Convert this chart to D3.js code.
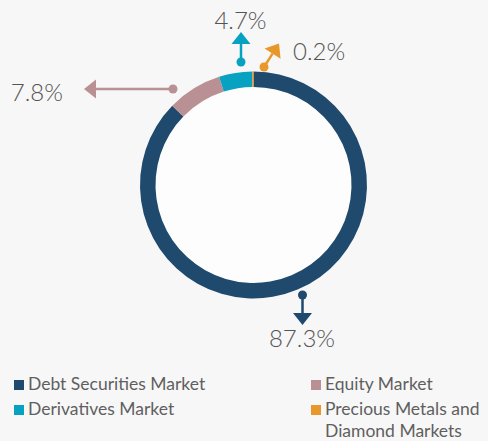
<!DOCTYPE html>
<html>
<head>
<meta charset="utf-8">
<script src="https://cdn.jsdelivr.net/npm/d3@7"></script>
<style>
  html, body { margin: 0; padding: 0; background: #f7f7f7; }
  svg { display: block; }
  text { font-family: Lato, "Open Sans", sans-serif; }
</style>
</head>
<body>
<div id="chart"></div>
<script>
'use strict';

// data
var categories = ['Debt Securities Market', 'Equity Market', 'Derivatives Market', 'Precious Metals and Diamond Markets'];
var shares = [87.3, 7.8, 4.7, 0.2];
var labels = ['87.3%', '7.8%', '4.7%', '0.2%'];
var colors = ['#1f4a6e', '#b99094', '#07a1c2', '#e8972b'];

// legend order as in the picture (two columns)
var legendOrder = [0, 2, 1, 3];

var width = 488, height = 441;
var cx = 253.5, cy = 185;
var outerR = 113.5, innerR = 98;

var svg = d3.select('#chart').append('svg')
  .attr('width', width)
  .attr('height', height);

var pie = d3.pie().sort(null).value(function(d) { return d; });
var arcs = pie(shares);

var arc = d3.arc().innerRadius(innerR).outerRadius(outerR);

var g = svg.append('g').attr('transform', 'translate(' + cx + ',' + cy + ')');

g.append('circle').attr('r', innerR).style('fill', '#fdfdfd');

g.selectAll('path.slice')
  .data(arcs)
  .enter()
  .append('path')
  .attr('class', 'slice')
  .attr('d', arc)
  .style('fill', function(d, i) { return colors[i]; });

/*
  callouts: dot offset from centre, arrow tip, label spot
*/
var callouts = [
  { dot: [49, 110], tip: [49, 140], lx: 48.5, ly: 162, anchor: 'middle' },
  { dot: [-80.5, -96], tip: [-169.5, -96], lx: -190.5, ly: -84, anchor: 'end' },
  { dot: [-12.5, -123], tip: [-12.5, -153], lx: -13, ly: -156, anchor: 'middle' },
  { dot: [10.5, -118], tip: [25.5, -141.5], lx: 39.5, ly: -125, anchor: 'start' }
];

var headLen = 12, headHalf = 9.5;

callouts.forEach(function(c, i) {
  var dx = c.tip[0] - c.dot[0], dy = c.tip[1] - c.dot[1];
  var len = Math.sqrt(dx * dx + dy * dy);
  var ux = dx / len, uy = dy / len;
  var bx = c.tip[0] - ux * headLen, by = c.tip[1] - uy * headLen;

  g.append('line')
    .attr('x1', c.dot[0]).attr('y1', c.dot[1])
    .attr('x2', bx).attr('y2', by)
    .style('stroke', colors[i])
    .style('stroke-width', 2.5);

  g.append('path')
    .attr('d', 'M' + c.tip[0] + ',' + c.tip[1] +
      'L' + (bx - uy * headHalf) + ',' + (by + ux * headHalf) +
      'L' + (bx + uy * headHalf) + ',' + (by - ux * headHalf) + 'Z')
    .style('fill', colors[i]);

  g.append('circle')
    .attr('cx', c.dot[0]).attr('cy', c.dot[1])
    .attr('r', 4.5)
    .style('fill', colors[i]);

  g.append('text')
    .attr('x', c.lx).attr('y', c.ly)
    .attr('text-anchor', c.anchor)
    .style('font-size', '24px')
    .style('font-weight', 300)
    .style('fill', '#555')
    .text(labels[i]);
});

// legend
var legendX = [14, 311];
var legendY = [390, 415];
var legend = svg.append('g');

legendOrder.forEach(function(idx, k) {
  var col = k < 2 ? 0 : 1;
  var row = k % 2;
  var x = legendX[col], y = legendY[row];
  legend.append('rect')
    .attr('x', x).attr('y', y - 10)
    .attr('width', 10).attr('height', 10)
    .style('fill', colors[idx]);
  var t = legend.append('text')
    .attr('x', x + 14).attr('y', y)
    .style('font-size', '17.5px')
    .style('fill', '#5f5f5f');
  if (idx === 3) {
    t.append('tspan').attr('x', x + 14).text('Precious Metals and');
    t.append('tspan').attr('x', x + 14).attr('dy', 22).text('Diamond Markets');
  } else {
    t.text(categories[idx]);
  }
});
</script>
</body>
</html>
